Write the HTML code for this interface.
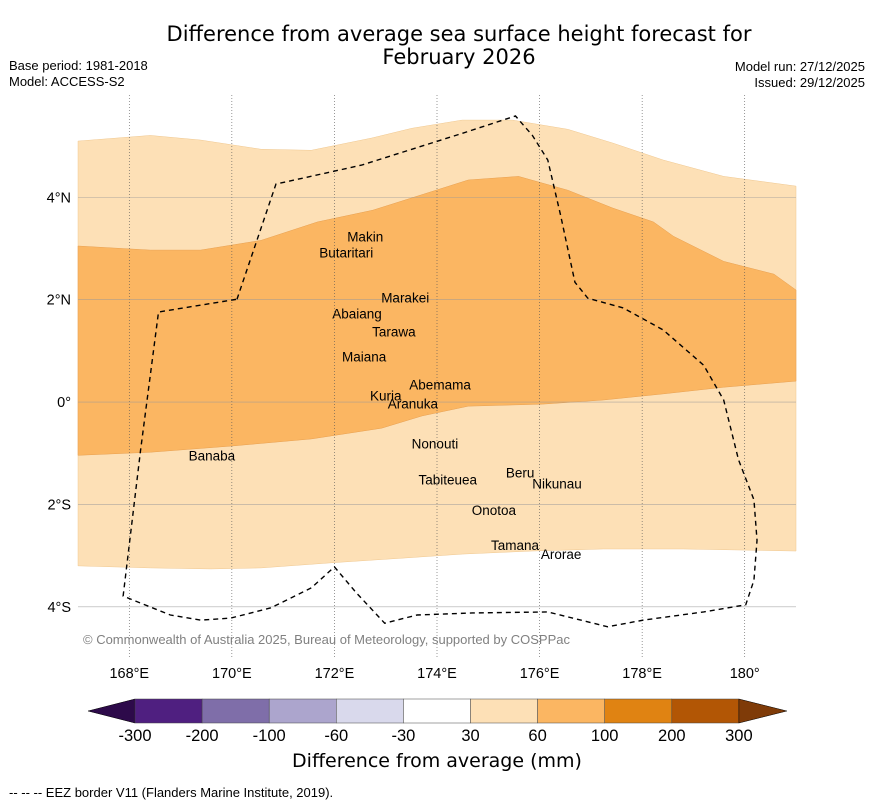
<!DOCTYPE html>
<html><head><meta charset="utf-8">
<style>
body{margin:0;background:#fff;font-family:"Liberation Sans",sans-serif;}
#wrap{position:relative;width:873px;height:804px;overflow:hidden;}
</style></head>
<body>
<div id="wrap">
<svg id="svg" width="873" height="804" xmlns="http://www.w3.org/2000/svg" font-family="Liberation Sans, DejaVu Sans, sans-serif">
<text x="459" y="41" font-size="21" font-family="DejaVu Sans, sans-serif" text-anchor="middle">Difference from average sea surface height forecast for</text>
<text x="459" y="64" font-size="21" font-family="DejaVu Sans, sans-serif" text-anchor="middle">February 2026</text>
<text x="9" y="70" font-size="13">Base period: 1981-2018</text>
<text x="9" y="86" font-size="13">Model: ACCESS-S2</text>
<text x="865" y="71" font-size="13" text-anchor="end">Model run: 27/12/2025</text>
<text x="865" y="87" font-size="13" text-anchor="end">Issued: 29/12/2025</text>
<g id="map"></g>
<g id="cbar"></g>
<text x="437" y="767" font-size="19" font-family="DejaVu Sans, sans-serif" text-anchor="middle">Difference from average (mm)</text>
<text x="9" y="797" font-size="13">--  --  -- EEZ border V11 (Flanders Marine Institute, 2019).</text>
</svg>
</div>
<script>
const lonTicks=[168,170,172,174,176,178,180];
const lonTickLabels=["168°E","170°E","172°E","174°E","176°E","178°E","180°"];
const latTicks=[4,2,0,-2,-4];
const latTickLabels=["4°N","2°N","0°","2°S","4°S"];
const lightTopLon=[167,168.41,169.39,170.57,171.55,172.73,173.51,174.49,175.47,176.55,177.43,178.41,179.59,181];
const lightTopLat=[5.10,5.21,5.12,4.94,4.92,5.16,5.35,5.51,5.51,5.33,5.06,4.73,4.41,4.22];
const lightBotLon=[167,168.41,169.59,170.57,171.94,173.31,174.49,175.86,177.24,178.8,181];
const lightBotLat=[-3.20,-3.24,-3.26,-3.24,-3.14,-3.05,-2.97,-2.91,-2.87,-2.87,-2.91];
const darkTopLon=[167,168.41,169.39,170.57,171.67,172.75,173.73,174.61,175.59,176.55,177.43,178.22,178.61,179.59,180.57,181];
const darkTopLat=[3.05,2.97,2.97,3.16,3.52,3.75,4.06,4.34,4.41,4.14,3.79,3.52,3.24,2.75,2.5,2.19];
const darkBotLon=[167,168.41,169.98,171.55,172.92,173.71,174.61,176.06,177.24,178.41,179.59,181];
const darkBotLat=[-1.04,-0.98,-0.86,-0.72,-0.51,-0.27,-0.08,-0.04,0.04,0.16,0.29,0.41];
const eezLon=[170.10,170.86,172.53,174.49,175.53,175.86,176.16,176.41,176.69,176.94,177.63,178.41,179.2,179.59,179.88,180.18,180.24,180.18,180.02,179.2,178.02,177.33,176.16,174.69,173.61,172.98,172.43,172.0,171.55,170.76,169.98,169.39,168.8,167.88,168.22,168.57,170.10];
const eezLat=[2.01,4.26,4.63,5.25,5.59,5.21,4.73,3.65,2.34,2.03,1.84,1.41,0.72,0.04,-1.13,-1.91,-2.70,-3.48,-3.96,-4.10,-4.26,-4.39,-4.10,-4.12,-4.16,-4.32,-3.73,-3.22,-3.63,-4.02,-4.22,-4.26,-4.16,-3.79,-0.94,1.76,2.01];
const islandNames=["Makin","Butaritari","Marakei","Abaiang","Tarawa","Maiana","Abemama","Kuria","Aranuka","Nonouti","Banaba","Tabiteuea","Beru","Nikunau","Onotoa","Tamana","Arorae"];
const islandLon=[172.60,172.23,173.38,172.44,173.16,172.58,174.06,173.0,173.53,173.96,169.61,174.21,175.62,176.34,175.11,175.52,176.42];
const islandLat=[3.23,2.91,2.03,1.72,1.37,0.88,0.33,0.12,-0.04,-0.82,-1.05,-1.52,-1.39,-1.60,-2.12,-2.80,-2.98];
const cbLabels=["-300","-200","-100","-60","-30","30","60","100","200","300"];
const cbColors=["#4f1f80","#7f6ea9","#aca5cd","#d9d9ec","#ffffff","#fde0b6","#fbb662","#e08312","#b25605"];

const NS="http://www.w3.org/2000/svg";
const X0=78,X1=796,Y0=95,Y1=658,LON0=167,LON1=181,LAT0=6.0,LAT1=-5.0;
function xs(lon){return X0+(lon-LON0)/(LON1-LON0)*(X1-X0);}
function ys(lat){return Y0+(LAT0-lat)/(LAT0-LAT1)*(Y1-Y0);}
function mk(tag,attrs,parent){const e=document.createElementNS(NS,tag);for(const k in attrs)e.setAttribute(k,attrs[k]);parent.appendChild(e);return e;}
const map=document.getElementById('map');
function band(tl,ta,bl,ba){let p=[];for(let i=0;i<tl.length;i++)p.push(xs(tl[i])+','+ys(ta[i]));for(let i=bl.length-1;i>=0;i--)p.push(xs(bl[i])+','+ys(ba[i]));return p.join(' ');}
let e=mk('polygon',{points:band(lightTopLon,lightTopLat,lightBotLon,lightBotLat),fill:'#fde0b6',stroke:'#f0c890','stroke-width':0.5},map);


e=mk('polygon',{points:band(darkTopLon,darkTopLat,darkBotLon,darkBotLat),fill:'#fbb662',stroke:'#e8a050','stroke-width':0.5},map);


lonTicks.forEach((v,i)=>{
  e=mk('line',{x1:xs(v),x2:xs(v),y1:Y0,y2:Y1,stroke:'#555','stroke-width':0.6,'stroke-dasharray':'1,2'},map);
  
  
  e=mk('text',{x:xs(v),y:678,'font-size':14.5,'text-anchor':'middle'},map);e.textContent=lonTickLabels[i];
  
  
});
latTicks.forEach((v,i)=>{
  e=mk('line',{x1:X0,x2:X1,y1:ys(v),y2:ys(v),stroke:'#999','stroke-width':0.6,opacity:0.8},map);
  
  
  e=mk('text',{x:71,y:ys(v)+5,'font-size':14.5,'text-anchor':'end'},map);e.textContent=latTickLabels[i];
  
  
});
e=mk('polyline',{points:eezLon.map((l,i)=>xs(l)+','+ys(eezLat[i])).join(' '),fill:'none',stroke:'#000','stroke-width':1.4,'stroke-dasharray':'5,4'},map);


islandNames.forEach((n,i)=>{
  e=mk('text',{x:xs(islandLon[i]),y:ys(islandLat[i])+4.5,'font-size':13.5,'text-anchor':'middle'},map);e.textContent=n;
  
  
});
e=mk('text',{x:83,y:644,'font-size':13,fill:'#808080'},map);e.textContent='© Commonwealth of Australia 2025, Bureau of Meteorology, supported by COSPPac';



const cb=document.getElementById('cbar');
const CX0=135,CW=67.1,CY=699,CH=24;
e=mk('polygon',{points:`88,${CY+CH/2} ${CX0},${CY} ${CX0},${CY+CH}`,fill:'#2d0a4a',stroke:'#000','stroke-width':0.5},cb);


cbColors.forEach((c,i)=>{
  e=mk('rect',{x:CX0+i*CW,y:CY,width:CW,height:CH,fill:c,stroke:'#444','stroke-width':0.5},cb);
  
  
});
const cEnd=CX0+cbColors.length*CW;
e=mk('polygon',{points:`${cEnd},${CY} ${cEnd+48},${CY+CH/2} ${cEnd},${CY+CH}`,fill:'#7f3b08',stroke:'#000','stroke-width':0.5},cb);


cbLabels.forEach((t,i)=>{
  e=mk('text',{x:CX0+i*CW,y:741,'font-size':16.5,'text-anchor':'middle'},cb);e.textContent=t;
  
  
});
</script>
</body></html>
